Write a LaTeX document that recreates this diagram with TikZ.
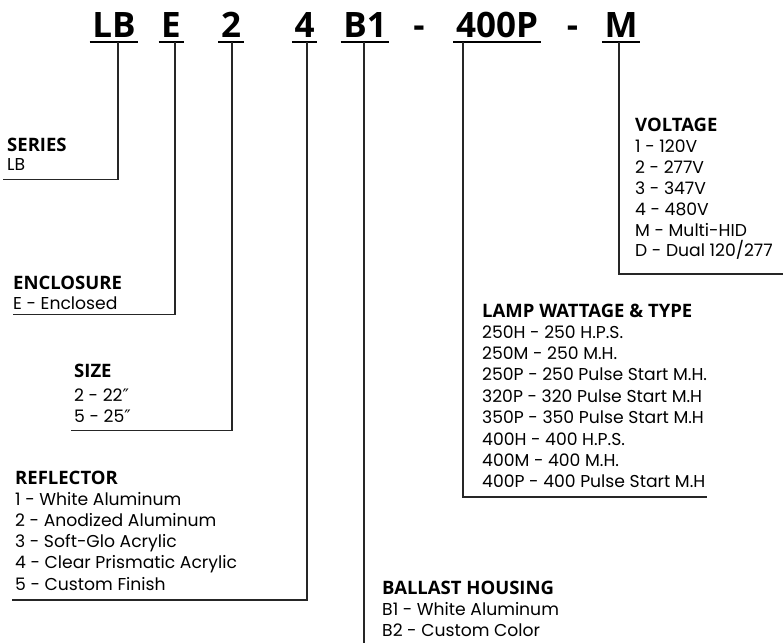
\documentclass[tikz,border=0pt]{standalone}
\usepackage{fontspec}
\setmainfont{Poppins}
\newfontfamily\hdfont{Open Sans}
\newfontfamily\symfont{DejaVu Sans}
\begin{document}
\begin{tikzpicture}[x=1pt,y=-1pt,
  body/.style={anchor=base west,inner sep=0pt,font=\fontsize{17.2}{20}\selectfont},
  head/.style={anchor=base west,inner sep=0pt,font=\hdfont\bfseries\fontsize{18.5}{20}\selectfont},
  code/.style={anchor=base,inner xsep=2.5pt,inner ysep=0pt,font=\hdfont\bfseries\fontsize{35}{40}\selectfont},
  uline/.style={line width=2pt},
  lead/.style={line width=1.1pt,draw=black!85}]
\useasboundingbox (0,0) rectangle (783,643);
% code letters
\node[code] (cLB)   at (114,37) {LB};
\node[code] (cE)    at (171,37) {E};
\node[code] (c2)    at (231,37) {2};
\node[code] (c4)    at (304.5,37) {4};
\node[code] (cB1)   at (365,37) {B1};
\node[code] (dA)    at (419,37) {-};
\node[code] (c400P) at (497,37) {400P};
\node[code] (dB)    at (572.5,37) {-};
\node[code] (cM)    at (621,37) {M};
\foreach \n in {cLB,cE,c2,c4,cB1,c400P,cM}
  \draw[uline] ([yshift=-5pt]\n.base west) -- ([yshift=-5pt]\n.base east);
% taps under the code letters
\coordinate (tLB)   at (118,42);
\coordinate (tE)    at (175,42);
\coordinate (t2)    at (232,42);
\coordinate (t4)    at (307,42);
\coordinate (tB1)   at (364,42);
\coordinate (t400P) at (463,42);
\coordinate (tM)    at (619,42);
% ends of leaders
\coordinate (eSeries) at (3,179.3);
\coordinate (eEncl)   at (13,314.3);
\coordinate (eSize)   at (71,430.7);
\coordinate (eRefl)   at (12,600);
\coordinate (eBall)   at (364,643);
\coordinate (eLamp)   at (707,497);
\coordinate (eVolt)   at (783,274);
\draw[lead] (tLB) |- (eSeries);
\draw[lead] (tE) |- (eEncl);
\draw[lead] (t2) |- (eSize);
\draw[lead] (t4) |- (eRefl);
\draw[lead] (tB1) -- (eBall);
\draw[lead] (t400P) |- (eLamp);
\draw[lead] (tM) |- (eVolt);
% SERIES
\node[head] (hSeries) at (7,151.7) {SERIES};
\node[body] (series1) at (7,170.7) {LB};
% ENCLOSURE
\node[head] (hEncl) at (13,289.3) {ENCLOSURE};
\node[body] (encl1) at (13,309.3) {E - Enclosed};
% SIZE
\node[head] (hSize) at (74,377.5) {SIZE};
\node[body] (size1) at (74,401.7) {2 - 22{\symfont ″}};
\node[body] (size2) at (74,422) {5 - 25{\symfont ″}};
% REFLECTOR
\node[head] (hRefl) at (15,484) {REFLECTOR};
\foreach \yy/\tt [count=\i] in {505/{1 - White Aluminum},526.7/{2 - Anodized Aluminum},547.5/{3 - Soft-Glo Acrylic},568.3/{4 - Clear Prismatic Acrylic},590/{5 - Custom Finish}}
  \node[body] (refl\i) at (15,\yy) {\tt};
% BALLAST HOUSING
\node[head] (hBall) at (382,594) {BALLAST HOUSING};
\node[body] (ball1) at (382,615) {B1 - White Aluminum};
\node[body] (ball2) at (382,636) {B2 - Custom Color};
% LAMP WATTAGE & TYPE
\node[head] (hLamp) at (482,317.3) {LAMP WATTAGE \& TYPE};
\foreach \yy/\tt [count=\i] in {338.3/{250H - 250 H.P.S.},359.3/{250M - 250 M.H.},380.7/{250P - 250 Pulse Start M.H.},402.3/{320P - 320 Pulse Start M.H},423.3/{350P - 350 Pulse Start M.H},445/{400H - 400 H.P.S.},466/{400M - 400 M.H.},487.3/{400P - 400 Pulse Start M.H}}
  \node[body] (lamp\i) at (482,\yy) {\tt};
% VOLTAGE
\node[head] (hVolt) at (635,131.7) {VOLTAGE};
\foreach \yy/\tt [count=\i] in {152.7/{1 - 120V},173.3/{2 - 277V},194.3/{3 - 347V},215/{4 - 480V},236/{M - Multi-HID},256.7/{D - Dual 120/277}}
  \node[body] (volt\i) at (635,\yy) {\tt};
\end{tikzpicture}
\end{document}
